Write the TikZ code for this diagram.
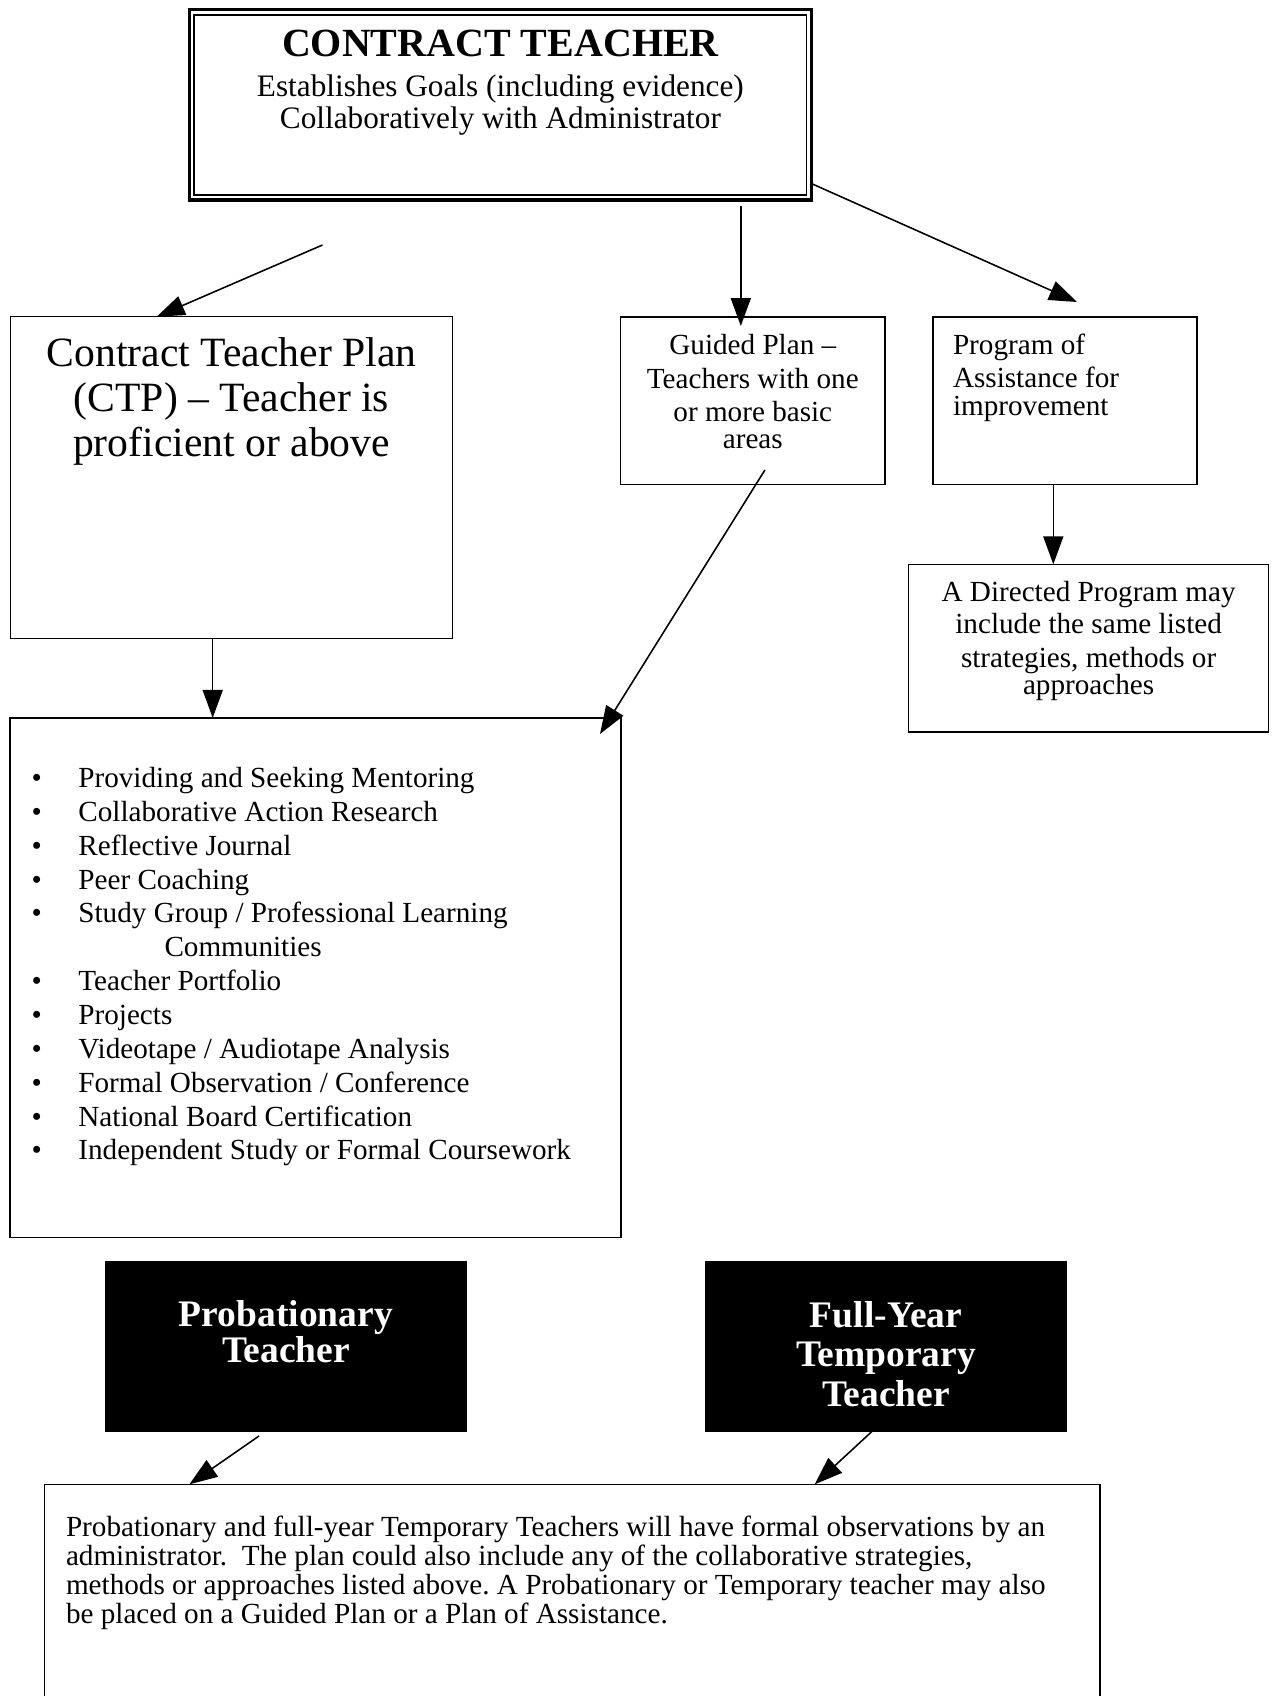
\documentclass[tikz,border=0pt]{standalone}
\usepackage{fontspec}
\setmainfont{Liberation Serif}
\usetikzlibrary{arrows.meta}
\frenchspacing
\newcommand\myfs[1]{\fontsize{#1pt}{#1pt}\selectfont}
\newcommand\mkbox[6]{\node[#6, minimum width={(#4-#2)*0.48pt}, minimum height={(#5-#3)*0.48pt}] (#1) at ({(#2+#4)/2},{(#3+#5)/2}) {};}
\newcommand\bul[3]{%
  \node[lbl, font=\myfs{14}] (b#1) at (36.7,{787.5+33.86*#2}) {•};
  \node[lblw, font=\myfs{14}] (i#1) at (78.4,{787.5+33.86*#2}) {#3};}
\begin{document}
\begin{tikzpicture}[x=0.48pt,y=-0.48pt,
  frame/.style={draw, line width=0.75pt, inner sep=0, outer sep=0},
  blk/.style={fill=black, draw=black, line width=0.5pt, inner sep=0, outer sep=0},
  lbl/.style={inner sep=0, outer sep=0, anchor=base},
  lblw/.style={inner sep=0, outer sep=0, anchor=base west},
  arr/.style={line width=0.75pt, -{Triangle[length=13.4pt,width=9.6pt]}},
  wtxt/.style={lbl, text=white, font=\bfseries\myfs{18}}]
\useasboundingbox (0,0) rectangle (1275,1696);
\clip (0,0) rectangle (1275,1696);

% boxes
\mkbox{top}{189.2}{9.8}{811.5}{200}{frame, line width=1.5pt}
\draw[line width=0.9pt] ([shift={(5,5)}]top.north west) rectangle ([shift={(-5,-5)}]top.south east);
\mkbox{ctp}{10.4}{316.7}{452.7}{638.3}{frame}
\mkbox{guided}{620.7}{316.8}{885}{484.6}{frame}
\mkbox{program}{932.8}{316.8}{1197}{484.6}{frame}
\mkbox{directed}{908.7}{564.3}{1268.5}{731.8}{frame}
\mkbox{list}{10.2}{717.9}{621.2}{1237.5}{frame}
\mkbox{prob}{105.2}{1261.7}{466.6}{1431}{blk}
\mkbox{fy}{705.3}{1261.7}{1066.7}{1431}{blk}
\mkbox{note}{44.5}{1484.3}{1100}{1720}{frame}

% top box text
\node[lbl, font=\bfseries\myfs{19.2}] (title) at (500.4,57) {CONTRACT TEACHER};
\node[lbl, font=\myfs{15}] (sub1) at (500.4,96.7) {Establishes Goals (including evidence)};
\node[lbl, font=\myfs{15}] (sub2) at (500.4,128.3) {Collaboratively with Administrator};

% CTP
\node[lbl, font=\myfs{20}] (c1) at (231.5,366) {Contract Teacher Plan};
\node[lbl, font=\myfs{20}] (c2) at (231.5,411) {(CTP) – Teacher is};
\node[lbl, font=\myfs{20}] (c3) at (231.5,456) {proficient or above};

% Guided
\node[lbl, font=\myfs{14}] (g1) at (752.8,354) {Guided Plan –};
\node[lbl, font=\myfs{14}] (g2) at (752.8,388) {Teachers with one};
\node[lbl, font=\myfs{14}] (g3) at (752.8,421) {or more basic};
\node[lbl, font=\myfs{14}] (g4) at (752.8,448.6) {areas};

% Program
\node[lblw, font=\myfs{14}] (p1) at (953,354) {Program of};
\node[lblw, font=\myfs{14}] (p2) at (953,387) {Assistance for};
\node[lblw, font=\myfs{14}] (p3) at (953,415.7) {improvement};

% Directed
\node[lbl, font=\myfs{14}] (d1) at (1088.6,601.4) {A Directed Program may};
\node[lbl, font=\myfs{14}] (d2) at (1088.6,633.6) {include the same listed};
\node[lbl, font=\myfs{14}] (d3) at (1088.6,667.5) {strategies, methods or};
\node[lbl, font=\myfs{14}] (d4) at (1088.6,694.3) {approaches};

% list
\bul{1}{0}{Providing and Seeking Mentoring}
\bul{2}{1}{Collaborative Action Research}
\bul{3}{2}{Reflective Journal}
\bul{4}{3}{Peer Coaching}
\bul{5}{4}{Study Group / Professional Learning}
\node[lblw, font=\myfs{14}] (i5b) at (164.5,{787.5+33.86*5}) {Communities};
\bul{6}{6}{Teacher Portfolio}
\bul{7}{7}{Projects}
\bul{8}{8}{Videotape / Audiotape Analysis}
\bul{9}{9}{Formal Observation / Conference}
\bul{10}{10}{National Board Certification}
\bul{11}{11}{Independent Study or Formal Coursework}

% black boxes
\node[wtxt] (pr1) at (285.9,1326.7) {Probationary};
\node[wtxt] (pr2) at (285.9,1362.7) {Teacher};
\node[wtxt] (fy1) at (886,1327) {Full-Year};
\node[wtxt] (fy2) at (886,1366.5) {Temporary};
\node[wtxt] (fy3) at (886,1406) {Teacher};

% note text
\node[lblw, font=\myfs{14}] (n1) at (66,1536.7) {Probationary and full-year Temporary Teachers will have formal observations by an};
\node[lblw, font=\myfs{14}] (n2) at (66,1565.5) {administrator.\ \ The plan could also include any of the collaborative strategies,};
\node[lblw, font=\myfs{14}] (n3) at (66,1594.3) {methods or approaches listed above. A Probationary or Temporary teacher may also};
\node[lblw, font=\myfs{14}] (n4) at (66,1623.1) {be placed on a Guided Plan or a Plan of Assistance.};

% connectors
\coordinate (aL1) at (322.5,245);
\draw[arr] (aL1) -- (156.7,0 |- ctp.north);
\coordinate (aM1) at (740.8,205.7);
\coordinate (aM2) at (740.8,326);
\draw[arr] (aM1) -- (aM2);
\coordinate (aR2) at (1077,302);
\draw[arr] (top.east |- 0,183.6) -- (aR2);
\draw[arr] (1053.3,0 |- program.south) -- (1053.3,0 |- directed.north);
\draw[arr] (212.7,0 |- ctp.south) -- (212.7,0 |- list.north);
\coordinate (aG1) at (764.9,470);
\coordinate (aG2) at (600,734);
\draw[arr] (aG1) -- (aG2);
\coordinate (aP1) at (259,1436);
\draw[arr] (aP1) -- (189.4,0 |- note.north);
\coordinate (aF1) at (872.4,1431);
\draw[arr] (aF1) -- (814.7,0 |- note.north);
\end{tikzpicture}
\end{document}
